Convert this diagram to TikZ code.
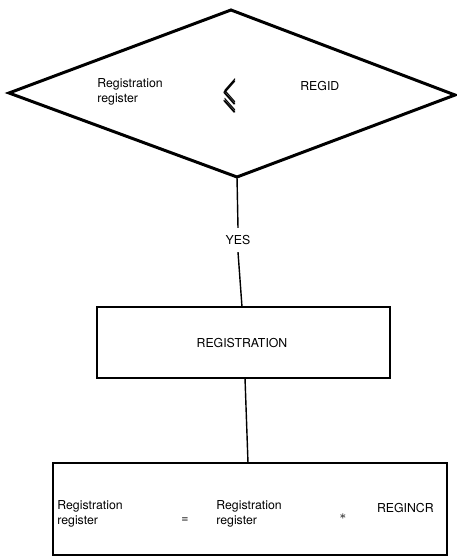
\documentclass[tikz,border=0pt]{standalone}
\usepackage{amsmath}
\usepackage{amssymb}
\usepackage{bm}
\usepackage{fontspec}
\setmainfont{TeX Gyre Heros}
\usepackage{tikz}

\tikzset{
  box/.style={draw, line width=0.8pt, rectangle, inner sep=0pt},
  lbl/.style={font=\fontsize{7}{8.4}\selectfont, align=left, inner sep=0pt}
}

\begin{document}
\begin{tikzpicture}[x=0.02cm, y=-0.02cm]
\useasboundingbox (0,0) rectangle (456,557);

% Decision diamond
\coordinate (dtop) at (231,10);
\coordinate (dleft) at (9,93);
\coordinate (dright) at (455,95);
\coordinate (dbot) at (237,177);
\draw[line width=1.7pt, line join=miter] (dtop) -- (dright) -- (dbot) -- (dleft) -- cycle;

% Test inside diamond
\node[lbl, anchor=west] (lhs) at (97,92) {Registration\\register};
\node[inner sep=0pt] (cmp) at (230,96) {\scalebox{1.0}[2.4]{$\bm{\leqslant}$}};
\node[lbl, anchor=west] (rhs) at (300,86) {REGID};

% YES branch
\node[lbl, inner sep=4pt] (yes) at (238,240) {YES};

% Process box
\node[box, minimum width=293*0.02cm, minimum height=71*0.02cm] (reg) at (243.5,342.5) {};
\node[lbl] (regtxt) at (242,343) {REGISTRATION};

% Assignment box
\node[box, minimum width=394*0.02cm, minimum height=92*0.02cm] (asg) at (250,509) {};
\node[lbl, anchor=west] (lhs2) at (57,514) {Registration\\register};
\node[lbl] (eq) at (185,520) {=};
\node[lbl, anchor=west] (rhs2) at (216,514) {Registration\\register};
\node[lbl] (op) at (343,517) {$\ast$};
\node[lbl, anchor=east] (inc) at (434,508) {REGINCR};

% Connectors
\coordinate (regtop) at (242,307);
\coordinate (regbot) at (245,378);
\coordinate (asgtop) at (248,463);
\draw[line width=0.8pt] (dbot) -- (yes.north);
\draw[line width=0.8pt] (yes.south) -- (regtop);
\draw[line width=0.8pt] (regbot) -- (asgtop);
\end{tikzpicture}
\end{document}
